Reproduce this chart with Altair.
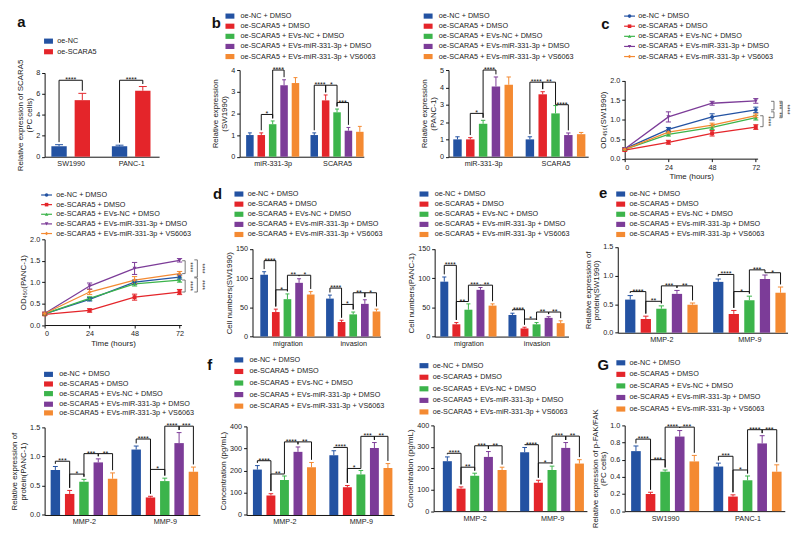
import altair as alt
import pandas as pd

FONT = "Liberation Sans"
INK = "#222222"

SERIES = ["oe-NC + DMSO", "oe-SCARA5 + DMSO", "oe-SCARA5 + EVs-NC + DMSO",
          "oe-SCARA5 + EVs-miR-331-3p + DMSO", "oe-SCARA5 + EVs-miR-331-3p + VS6063"]
SERIES_A = ["oe-NC", "oe-SCARA5"]
PALETTE = ["#2352a2", "#e4252a", "#3cb44b", "#7c3c98", "#f48a32"]
SHAPES = ["circle", "square", "triangle-up", "triangle-down", "diamond"]

# ---------------- data ----------------
A_GROUPS = ["SW1990", "PANC-1"]
A_MEAN = [[1.0, 5.4], [1.0, 6.3]]
A_ERR = [[0.15, 0.65], [0.10, 0.40]]
A_SIG = [(0, 0, 1, 7.3, "****"), (1, 0, 1, 7.3, "****")]

B_GROUPS = ["miR-331-3p", "SCARA5"]
B1_MEAN = [[1.0, 1.0, 1.5, 3.3, 3.4], [1.0, 2.6, 2.05, 1.2, 1.15]]
B1_ERR = [[0.1, 0.1, 0.15, 0.25, 0.25], [0.1, 0.25, 0.15, 0.15, 0.25]]
B1_SIG = [(0, 1, 2, 1.95, "*"), (0, 2, 3, 4.0, "****"), (1, 0, 1, 3.3, "****"),
          (1, 1, 2, 3.3, "*"), (1, 2, 3, 2.5, "***")]
B2_MEAN = [[1.0, 1.0, 1.9, 4.05, 4.15], [1.0, 3.6, 2.5, 1.25, 1.3]]
B2_ERR = [[0.15, 0.1, 0.2, 0.55, 0.45], [0.15, 0.15, 0.45, 0.12, 0.1]]
B2_SIG = [(0, 1, 2, 2.5, "*"), (0, 2, 3, 5.0, "****"), (1, 0, 1, 4.3, "****"),
          (1, 1, 2, 4.3, "**"), (1, 2, 3, 3.0, "****")]

TIME = [0, 24, 48, 72]
C1_MEAN = [[0.25, 0.75, 1.07, 1.25], [0.22, 0.42, 0.65, 0.81], [0.24, 0.62, 0.80, 1.05],
           [0.25, 1.07, 1.42, 1.48], [0.24, 0.68, 0.86, 1.10]]
C1_ERR = [[0.03, 0.05, 0.08, 0.07], [0.03, 0.05, 0.07, 0.06], [0.03, 0.04, 0.05, 0.06],
          [0.03, 0.13, 0.05, 0.06], [0.03, 0.04, 0.05, 0.05]]
C1_SIG = [(76, 1.10, 0.82, "****"), (82, 1.47, 1.25, "***"), (82, 1.20, 1.05, "**"),
          (86.5, 1.47, 1.05, "****")]
C2_MEAN = [[0.26, 0.60, 1.00, 1.12], [0.25, 0.34, 0.65, 0.77], [0.26, 0.62, 0.96, 1.05],
           [0.27, 0.91, 1.32, 1.51], [0.27, 0.77, 1.05, 1.20]]
C2_ERR = [[0.03, 0.04, 0.05, 0.05], [0.03, 0.04, 0.07, 0.06], [0.03, 0.04, 0.05, 0.05],
          [0.03, 0.07, 0.14, 0.04], [0.03, 0.06, 0.08, 0.05]]
C2_SIG = [(75, 1.50, 1.20, "****"), (75, 1.05, 0.77, "****"), (81.5, 1.52, 1.12, "****"),
          (81.5, 1.10, 0.77, "****")]

D_GROUPS = ["migration", "invasion"]
D1_MEAN = [[106, 42, 64, 92, 72], [65, 25, 38, 56, 43]]
D1_ERR = [[5, 5, 9, 7, 5], [6, 3, 4, 7, 4]]
D1_SIG = [(0, 0, 1, 130, "****"), (0, 1, 2, 80, "*"), (0, 2, 3, 105, "**"), (0, 3, 4, 105, "*"),
          (1, 0, 1, 83, "****"), (1, 1, 2, 55, "*"), (1, 2, 3, 75, "**"), (1, 3, 4, 75, "*")]
D2_MEAN = [[94, 21, 46, 80, 53], [37, 14, 21, 32, 23]]
D2_ERR = [[8, 3, 10, 4, 3], [3, 2, 3, 2, 4]]
D2_SIG = [(0, 0, 1, 122, "****"), (0, 1, 2, 60, "**"), (0, 2, 3, 88, "***"), (0, 3, 4, 88, "**"),
          (1, 0, 1, 46, "****"), (1, 1, 2, 30, "*"), (1, 2, 3, 42, "**"), (1, 3, 4, 42, "**")]

M_GROUPS = ["MMP-2", "MMP-9"]
E_MEAN = [[0.58, 0.24, 0.42, 0.68, 0.49], [0.89, 0.33, 0.57, 0.94, 0.70]]
E_ERR = [[0.07, 0.05, 0.05, 0.06, 0.03], [0.05, 0.06, 0.07, 0.07, 0.10]]
E_SIG = [(0, 0, 1, 0.72, "****"), (0, 1, 2, 0.55, "**"), (0, 2, 3, 0.82, "***"), (0, 3, 4, 0.82, "**"),
         (1, 0, 1, 1.02, "****"), (1, 1, 2, 0.72, "*"), (1, 2, 3, 1.10, "***"), (1, 3, 4, 1.05, "*")]
FL_MEAN = [[0.77, 0.36, 0.57, 0.90, 0.62], [1.12, 0.30, 0.58, 1.23, 0.74]]
FL_ERR = [[0.06, 0.06, 0.04, 0.06, 0.10], [0.06, 0.02, 0.05, 0.18, 0.08]]
FL_SIG = [(0, 0, 1, 0.92, "***"), (0, 1, 2, 0.70, "*"), (0, 2, 3, 1.05, "***"), (0, 3, 4, 1.05, "**"),
          (1, 0, 1, 1.30, "****"), (1, 1, 2, 0.78, "*"), (1, 2, 3, 1.52, "****"), (1, 3, 4, 1.52, "***")]
F1_MEAN = [[205, 88, 158, 285, 215], [270, 125, 183, 302, 212]]
F1_ERR = [[18, 8, 18, 22, 22], [20, 8, 18, 25, 20]]
F1_SIG = [(0, 0, 1, 245, "****"), (0, 1, 2, 185, "**"), (0, 2, 3, 330, "****"), (0, 3, 4, 330, "**"),
          (1, 0, 1, 305, "****"), (1, 1, 2, 210, "*"), (1, 2, 3, 355, "***"), (1, 3, 4, 355, "**")]
F2_MEAN = [[233, 105, 165, 253, 192], [275, 132, 192, 295, 222]]
F2_ERR = [[20, 8, 12, 25, 13], [22, 12, 18, 25, 18]]
F2_SIG = [(0, 0, 1, 270, "****"), (0, 1, 2, 205, "**"), (0, 2, 3, 305, "***"), (0, 3, 4, 305, "**"),
          (1, 0, 1, 310, "****"), (1, 1, 2, 225, "*"), (1, 2, 3, 350, "***"), (1, 3, 4, 350, "**")]
G_GROUPS = ["SW1990", "PANC-1"]
G_MEAN = [[0.70, 0.20, 0.46, 0.87, 0.58], [0.52, 0.17, 0.36, 0.79, 0.46]]
G_ERR = [[0.06, 0.02, 0.02, 0.07, 0.07], [0.04, 0.02, 0.05, 0.09, 0.08]]
G_SIG = [(0, 0, 1, 0.84, "****"), (0, 1, 2, 0.60, "***"), (0, 2, 3, 0.98, "****"), (0, 3, 4, 0.98, "***"),
         (1, 0, 1, 0.64, "***"), (1, 1, 2, 0.48, "*"), (1, 2, 3, 0.95, "****"), (1, 3, 4, 0.95, "***")]

# ---------------- layout helpers (reference pixel coords -> chart coords) ----------------
SX, SY = 0.98, 0.973


def cx(x):
    return x * SX


def cy(y):
    return (y - 1) * SY


def local(geom):
    px0, py0, px1, py1 = geom["plot"]
    vt = geom["vtop"]
    W = cx(px1) - cx(px0)
    H = cy(py1) - cy(vt)
    top_off = cy(py0) - cy(vt)
    return W, H, top_off, (lambda x: cx(x) - cx(px0)), (lambda y: cy(y) - cy(vt))


def deco_layers(geom, series, palette, kind):
    W, H, top_off, fx, fy = local(geom)
    sqx, tx, ys = geom["legend"]
    leg = pd.DataFrame({"series": series, "ly": [fy(y) for y in ys]})
    leg["ly0"] = leg["ly"] - 2.6
    leg["ly1"] = leg["ly"] + 2.6
    cs = alt.Scale(domain=series, range=palette)
    col = alt.Color("series:N", scale=cs, legend=None)
    base = alt.Chart(leg)
    layers = []
    if kind == "bar":
        layers.append(base.mark_rect().encode(
            x=alt.value(fx(sqx) - 4.5), x2=alt.value(fx(sqx) + 4.5),
            y=alt.Y("ly0:Q", scale=None), y2="ly1", color=col))
    else:
        layers.append(base.mark_rule(strokeWidth=1.2).encode(
            x=alt.value(fx(sqx) - 5.5), x2=alt.value(fx(sqx) + 5.5),
            y=alt.Y("ly:Q", scale=None), color=col))
        layers.append(base.mark_point(filled=True, size=13, opacity=1).encode(
            x=alt.value(fx(sqx)), y=alt.Y("ly:Q", scale=None), color=col,
            shape=alt.Shape("series:N", scale=alt.Scale(domain=series, range=SHAPES), legend=None)))
    layers.append(base.mark_text(align="left", baseline="middle", font=FONT, fontSize=7.3,
                                 color=INK).encode(
        x=alt.value(fx(tx)), y=alt.Y("ly:Q", scale=None), text="series:N"))
    one = pd.DataFrame({"k": [0]})
    if geom.get("letter"):
        ch, lx_, ly_ = geom["letter"]
        layers.append(alt.Chart(one).mark_text(text=ch, font=FONT, fontSize=15, fontWeight="bold",
                                               align="center", baseline="middle", color="#111").encode(
            x=alt.value(fx(lx_)), y=alt.value(fy(ly_))))
    c0x, c0y, c1x, c1y = geom["cell"]
    layers.append(alt.Chart(one).mark_rule(opacity=0).encode(
        x=alt.value(fx(c0x)), x2=alt.value(fx(c1x)), y=alt.value(fy(c0y)), y2=alt.value(fy(c1y))))
    return layers


def bar_panel(geom, groups, series, palette, mean, err, sig, gap, xdom, ydom, yticks, yfmt, ytitle):
    W, H, top_off, fx, fy = local(geom)
    n = len(series)
    rows = []
    for g in range(len(groups)):
        for s, sname in enumerate(series):
            rows.append({"series": sname, "pos": g * gap + s, "mean": mean[g][s], "err": err[g][s]})
    df = pd.DataFrame(rows)
    pad = 0.03 * (ydom[1] - ydom[0])
    srows = []
    for g, i, j, level, lab in sig:
        p1, p2 = g * gap + i, g * gap + j
        srows.append({"p1": p1, "p2": p2, "mid": (p1 + p2) / 2, "level": level,
                      "d1": mean[g][i] + err[g][i] + pad, "d2": mean[g][j] + err[g][j] + pad,
                      "lab": lab})
    sdf = pd.DataFrame(srows)
    centers = [g * gap + (n - 1) / 2 for g in range(len(groups))]
    expr = "''"
    for c, name in zip(centers, groups):
        expr = f"abs(datum.value - {c}) < 0.01 ? '{name}' : ({expr})"
    xs = alt.Scale(domain=xdom, nice=False, zero=False)
    xa = alt.Axis(values=centers, labelExpr=expr, title=None, ticks=False, grid=False, labelPadding=3)
    ysc = alt.Scale(domain=ydom, nice=False, zero=False, range=[H, top_off])
    ya = alt.Axis(values=yticks, format=yfmt, title=ytitle, grid=False)
    cs = alt.Scale(domain=series, range=palette)
    col = alt.Color("series:N", scale=cs, legend=None)
    base = alt.Chart(df).transform_calculate(
        xl="datum.pos - 0.33", xr="datum.pos + 0.33", top="datum.mean + datum.err",
        cl="datum.pos - 0.17", cr="datum.pos + 0.17", zero="0")
    X = lambda f: alt.X(f, scale=xs, axis=xa)
    Y = lambda f: alt.Y(f, scale=ysc, axis=ya)
    bars = base.mark_rect().encode(x=X("xl:Q"), x2="xr", y=Y("mean:Q"), y2="zero", color=col)
    stem = base.mark_rule(strokeWidth=1).encode(x=X("pos:Q"), y=Y("mean:Q"), y2="top", color=col)
    cap = base.mark_rule(strokeWidth=1).encode(x=X("cl:Q"), x2="cr", y=Y("top:Q"), color=col)
    sb = alt.Chart(sdf)
    hline = sb.mark_rule(color="#111", strokeWidth=1).encode(x=X("p1:Q"), x2="p2", y=Y("level:Q"))
    left = sb.mark_rule(color="#111", strokeWidth=1).encode(x=X("p1:Q"), y=Y("level:Q"), y2="d1")
    right = sb.mark_rule(color="#111", strokeWidth=1).encode(x=X("p2:Q"), y=Y("level:Q"), y2="d2")
    txt = sb.mark_text(font=FONT, fontSize=7.2, color="#111", baseline="alphabetic", dy=2).encode(
        x=X("mid:Q"), y=Y("level:Q"), text="lab:N")
    main = alt.layer(bars, stem, cap, hline, left, right, txt)
    deco = deco_layers(geom, series, palette, "bar")
    return alt.layer(main, *deco).resolve_scale(x="independent", y="independent").properties(
        width=W, height=H)


def line_panel(geom, series, palette, times, mean, err, sig, ydom, yticks, ytitle, xdom):
    W, H, top_off, fx, fy = local(geom)
    rows = []
    for s, sname in enumerate(series):
        for t, tv in enumerate(times):
            rows.append({"series": sname, "time": tv, "mean": mean[s][t], "err": err[s][t]})
    df = pd.DataFrame(rows)
    sdf = pd.DataFrame([{"xb": xb, "y1": y1, "y2": y2, "lab": lab} for xb, y1, y2, lab in sig])
    xs = alt.Scale(domain=xdom, nice=False, zero=False)
    xa = alt.Axis(values=times, title="Time (hours)", grid=False, format="d")
    ysc = alt.Scale(domain=ydom, nice=False, zero=False, range=[H, top_off])
    ya = alt.Axis(values=yticks, format=".1f", title=ytitle, grid=False)
    cs = alt.Scale(domain=series, range=palette)
    col = alt.Color("series:N", scale=cs, legend=None)
    shp = alt.Shape("series:N", scale=alt.Scale(domain=series, range=SHAPES), legend=None)
    base = alt.Chart(df).transform_calculate(
        lo="datum.mean - datum.err", hi="datum.mean + datum.err",
        cl="datum.time - 1.4", cr="datum.time + 1.4")
    X = lambda f: alt.X(f, scale=xs, axis=xa)
    Y = lambda f: alt.Y(f, scale=ysc, axis=ya)
    line = base.mark_line(strokeWidth=1.3).encode(x=X("time:Q"), y=Y("mean:Q"), color=col)
    errb = base.mark_rule(strokeWidth=1).encode(x=X("time:Q"), y=Y("lo:Q"), y2="hi", color=col)
    capt = base.mark_rule(strokeWidth=1).encode(x=X("cl:Q"), x2="cr", y=Y("hi:Q"), color=col)
    capb = base.mark_rule(strokeWidth=1).encode(x=X("cl:Q"), x2="cr", y=Y("lo:Q"), color=col)
    pts = base.mark_point(filled=True, size=16, opacity=1).encode(
        x=X("time:Q"), y=Y("mean:Q"), color=col, shape=shp)
    sb = alt.Chart(sdf).transform_calculate(
        xt="datum.xb - 1.6", xm="datum.xb + 2.6", ym="(datum.y1 + datum.y2) / 2")
    vb = sb.mark_rule(color="#555", strokeWidth=0.8).encode(x=X("xb:Q"), y=Y("y1:Q"), y2="y2")
    tb = sb.mark_rule(color="#555", strokeWidth=0.8).encode(x=X("xt:Q"), x2="xb", y=Y("y1:Q"))
    bb = sb.mark_rule(color="#555", strokeWidth=0.8).encode(x=X("xt:Q"), x2="xb", y=Y("y2:Q"))
    lt = sb.mark_text(font=FONT, fontSize=6.5, color="#333", angle=90, baseline="middle").encode(
        x=X("xm:Q"), y=Y("ym:Q"), text="lab:N")
    main = alt.layer(line, errb, capt, capb, pts, vb, tb, bb, lt)
    deco = deco_layers(geom, series, palette, "line")
    return alt.layer(main, *deco).resolve_scale(x="independent", y="independent").properties(
        width=W, height=H)


# ---------------- geometry (reference pixel coordinates) ----------------
R1, R2, R3, R4 = 1, 178, 355, 534
V1, V2, V3 = 62, 237, 430   # common view top per row (plot origins align per row)
GA = {"cell": (0, R1, 200, R2), "plot": (32, 65, 150, 152), "vtop": V1,
      "legend": (36, 45, [32, 43]), "letter": ("a", 8, 12)}
GB1 = {"cell": (200, R1, 413, R2), "plot": (232, 62, 360, 152), "vtop": V1,
       "legend": (222, 233, [6, 16.5, 27, 37.5, 48]), "letter": ("b", 208, 13)}
GB2 = {"cell": (413, R1, 597, R2), "plot": (446, 62, 590, 152), "vtop": V1,
       "legend": (425, 436, [6, 16.5, 27, 37.5, 48])}
GC1 = {"cell": (597, R1, 799, R2), "plot": (627, 73, 764, 154), "vtop": V1,
       "legend": (632, 641, [6, 16.5, 27, 37.5, 48]), "letter": ("c", 607, 14)}
GC2 = {"cell": (0, R2, 202, R3), "plot": (32, 237, 173, 326), "vtop": V2,
       "legend": (34, 44, [191, 201, 211, 221, 231])}
GD1 = {"cell": (202, R2, 403, R3), "plot": (245, 247, 377, 338), "vtop": V2,
       "legend": (231, 240, [190, 200.5, 211, 221.5, 232]), "letter": ("d", 209, 190)}
GD2 = {"cell": (403, R2, 584, R3), "plot": (432, 247, 570, 338), "vtop": V2,
       "legend": (421, 432, [190, 200.5, 211, 221.5, 232])}
GE = {"cell": (584, R2, 799, R3), "plot": (620, 245, 795, 334), "vtop": V2,
      "legend": (623, 632, [190, 200.5, 211, 221.5, 232]), "letter": ("e", 605, 189)}
GFL = {"cell": (0, R3, 200, R4), "plot": (37, 432, 197, 523), "vtop": V3,
       "legend": (41, 52, [377, 387, 397, 408, 417])}
GF1 = {"cell": (200, R3, 400, R4), "plot": (244, 431, 396, 523), "vtop": V3,
       "legend": (236, 247, [362, 374, 386, 398, 410]), "letter": ("f", 206, 367)}
GF2 = {"cell": (400, R3, 596, R4), "plot": (436, 430, 594, 519), "vtop": V3,
       "legend": (426, 435, [368, 380, 392, 404, 416])}
GG = {"cell": (596, R3, 799, R4), "plot": (632, 430, 797, 519), "vtop": V3,
      "legend": (628, 637, [365, 377, 389, 401, 413]), "letter": ("G", 610, 367)}

GAP = 5.65
pa = bar_panel(GA, A_GROUPS, SERIES_A, PALETTE[:2], A_MEAN, A_ERR, A_SIG, 2.6, [-0.62, 4.3],
               [0, 8], [0, 2, 4, 6, 8], "d", ["Relative expression of SCARA5", "(PC cells)"])
pb1 = bar_panel(GB1, B_GROUPS, SERIES, PALETTE, B1_MEAN, B1_ERR, B1_SIG, GAP, [-0.9, 10.0],
                [0, 4], [0, 1, 2, 3, 4], "d", ["Relative expression", "(SW1990)"])
pb2 = bar_panel(GB2, B_GROUPS, SERIES, PALETTE, B2_MEAN, B2_ERR, B2_SIG, GAP, [-0.7, 10.2],
                [0, 5], [0, 1, 2, 3, 4, 5], "d", ["Relative expression", "(PANC-1)"])
pc1 = line_panel(GC1, SERIES, PALETTE, TIME, C1_MEAN, C1_ERR, C1_SIG, [0, 2],
                 [0, 0.5, 1.0, 1.5, 2.0], "OD\u2084\u2085\u2080(SW1990)", [0, 73])
pc2 = line_panel(GC2, SERIES, PALETTE, TIME, C2_MEAN, C2_ERR, C2_SIG, [0, 2],
                 [0, 0.5, 1.0, 1.5, 2.0], "OD\u2084\u2085\u2080(PANC-1)", [0, 73])
pd1 = bar_panel(GD1, D_GROUPS, SERIES, PALETTE, D1_MEAN, D1_ERR, D1_SIG, GAP, [-1.0, 10.0],
                [0, 150], [0, 50, 100, 150], "d", "Cell numbers(SW1990)")
pd2 = bar_panel(GD2, D_GROUPS, SERIES, PALETTE, D2_MEAN, D2_ERR, D2_SIG, GAP, [-0.8, 10.3],
                [0, 150], [0, 50, 100, 150], "d", "Cell numbers(PANC-1)")
pe = bar_panel(GE, M_GROUPS, SERIES, PALETTE, E_MEAN, E_ERR, E_SIG, GAP, [-0.8, 10.1],
               [0, 1.5], [0, 0.5, 1.0, 1.5], ".1f", ["Relative expression of", "protein(SW1990)"])
pfl = bar_panel(GFL, M_GROUPS, SERIES, PALETTE, FL_MEAN, FL_ERR, FL_SIG, GAP, [-0.75, 10.1],
                [0, 1.5], [0, 0.5, 1.0, 1.5], ".1f", ["Relative expression of", "protein(PANC-1)"])
pf1 = bar_panel(GF1, M_GROUPS, SERIES, PALETTE, F1_MEAN, F1_ERR, F1_SIG, GAP, [-0.8, 10.1],
                [0, 400], [0, 100, 200, 300, 400], "d", "Concentration (pg/mL)")
pf2 = bar_panel(GF2, M_GROUPS, SERIES, PALETTE, F2_MEAN, F2_ERR, F2_SIG, GAP, [-1.0, 10.2],
                [0, 400], [0, 100, 200, 300, 400], "d", "Concentration (pg/mL)")
pg = bar_panel(GG, G_GROUPS, SERIES, PALETTE, G_MEAN, G_ERR, G_SIG, GAP, [-0.77, 10.2],
               [0, 1.0], [0, 0.2, 0.4, 0.6, 0.8, 1.0], ".1f",
               ["Relative expression of p-FAK/FAK", "(PC cells)"])

RES = dict(color="independent", shape="independent")
row1 = alt.hconcat(pa, pb1, pb2, pc1, spacing=0).resolve_scale(**RES)
row2 = alt.hconcat(pc2, pd1, pd2, pe, spacing=0).resolve_scale(**RES)
row3 = alt.hconcat(pfl, pf1, pf2, pg, spacing=0).resolve_scale(**RES)

chart = alt.vconcat(row1, row2, row3, spacing=0).resolve_scale(**RES).properties(
    padding=0, background="white"
).configure_view(stroke=None).configure_axis(
    labelFont=FONT, titleFont=FONT, labelFontSize=7.3, titleFontSize=8, titleFontWeight="normal",
    domainColor="#111", tickColor="#111", labelColor=INK, titleColor=INK, tickSize=3,
    labelPadding=2, titlePadding=2, domainWidth=1, tickWidth=1, titleLineHeight=8.8
)

chart.save("out.html", embed_options={"renderer": "svg", "actions": False})
